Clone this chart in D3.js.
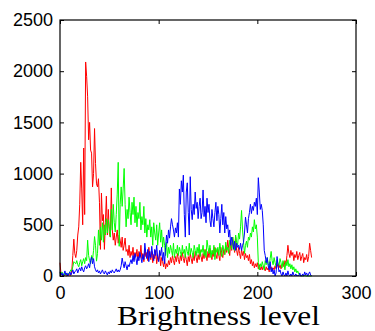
<!DOCTYPE html>
<html>
<head>
<meta charset="utf-8">
<script src="https://cdn.jsdelivr.net/npm/d3@7"></script>
<style>
  html, body { margin: 0; padding: 0; background: #fff; }
  svg { display: block; }
</style>
</head>
<body>
<svg id="chart" width="375" height="331"></svg>
<script>
// ---- data (histogram counts per brightness level 0..255) ----
const xTicks = [0, 100, 200, 300];
const yTicks = [0, 500, 1000, 1500, 2000, 2500];
const xLabel = "Brightness level";

const redValues = [
  130, 20, 10, 5, 0, 15, 5, 0, 10, 20,
  5, 10, 60, 200, 360, 220, 180, 250, 400, 480,
  700, 1110, 850, 500, 1250, 600, 2090, 1950, 1750, 1330,
  1500, 1230, 1200, 870, 1000, 1440, 1100, 900, 870, 950,
  720, 260, 810, 540, 600, 260, 520, 780, 400, 650,
  420, 380, 860, 450, 350, 420, 300, 380, 450, 320,
  400, 350, 280, 380, 250, 300, 370, 240, 260, 200,
  300, 180, 240, 200, 280, 160, 230, 190, 260, 150,
  240, 180, 300, 170, 220, 140, 260, 190, 230, 150,
  280, 200, 160, 240, 130, 210, 170, 250, 120, 190,
  150, 230, 100, 180, 140, 90, 160, 70, 120, 90,
  150, 110, 180, 130, 200, 150, 110, 190, 140, 220,
  160, 120, 200, 150, 230, 170, 130, 210, 160, 100,
  190, 140, 220, 170, 120, 200, 150, 240, 180, 130,
  210, 160, 250, 190, 140, 220, 170, 260, 200, 150,
  240, 180, 270, 200, 160, 250, 190, 280, 210, 170,
  260, 200, 150, 280, 220, 180, 260, 210, 300, 230,
  350, 270, 200, 330, 250, 380, 290, 230, 380, 250,
  200, 280, 220, 170, 260, 200, 240, 160, 220, 180,
  200, 150, 210, 120, 160, 100, 140, 80, 120, 90,
  130, 70, 110, 60, 90, 60, 100, 70, 50, 90,
  60, 80, 40, 70, 90, 50, 80, 60, 100, 70,
  90, 120, 80, 110, 70, 100, 130, 90, 150, 110,
  200, 300, 220, 180, 250, 200, 230, 150, 210, 180,
  240, 160, 200, 230, 150, 190, 220, 130, 180, 160,
  210, 140, 190, 320, 250, 180
];

const greenValues = [
  30, 10, 40, 20, 5, 30, 15, 10, 25, 20,
  40, 60, 50, 90, 140, 130, 120, 150, 110, 90,
  130, 160, 100, 140, 170, 120, 180, 150, 350, 200,
  150, 120, 200, 160, 250, 385, 300, 145, 220, 450,
  300, 480, 350, 520, 330, 500, 400, 560, 420, 550,
  480, 380, 650, 450, 700, 520, 430, 600, 800, 1110,
  290, 700, 870, 680, 850, 1050, 700, 480, 650, 560,
  770, 620, 500, 720, 600, 770, 520, 680, 480, 620,
  560, 720, 450, 580, 500, 680, 420, 560, 380, 500,
  450, 550, 380, 480, 300, 520, 420, 350, 500, 300,
  420, 520, 330, 450, 280, 380, 300, 200, 330, 180,
  280, 220, 300, 250, 200, 320, 180, 260, 220, 300,
  200, 280, 240, 190, 300, 220, 260, 180, 290, 240,
  200, 320, 210, 270, 230, 180, 300, 250, 200, 280,
  220, 310, 190, 260, 230, 300, 200, 250, 180, 350,
  280, 220, 300, 180, 250, 210, 300, 160, 270, 230,
  280, 200, 320, 240, 190, 300, 260, 210, 330, 250,
  280, 220, 350, 300, 260, 380, 310, 250, 400, 330,
  300, 420, 360, 480, 640, 450, 330, 220, 300, 340,
  280, 380, 350, 420, 380, 480, 430, 550, 460, 500,
  380, 130, 60, 120, 90, 140, 100, 60, 150, 110,
  180, 120, 90, 170, 240, 150, 110, 180, 130, 90,
  160, 120, 100, 170, 130, 80, 150, 110, 60, 140,
  100, 160, 90, 120, 70, 110, 60, 90, 40, 70,
  30, 50, 20, 10, 0, 5, 0, 0, 10, 0,
  0, 0, 0, 0, 0, 0
];

const blueValues = [
  40, 10, 30, 0, 20, 50, 10, 30, 0, 20,
  40, 10, 30, 60, 20, 40, 50, 70, 30, 60,
  80, 50, 90, 60, 40, 80, 100, 70, 90, 120,
  80, 150, 185, 120, 170, 90, 60, 40, 60, 30,
  50, 20, 40, 60, 30, 20, 50, 30, 10, 40,
  20, 50, 30, 60, 40, 30, 50, 70, 40, 60,
  40, 60, 100, 175, 120, 80, 140, 100, 60, 110,
  90, 130, 160, 120, 200, 140, 220, 170, 110, 190,
  150, 230, 180, 130, 210, 160, 320, 220, 170, 260,
  140, 240, 180, 290, 200, 150, 260, 200, 300, 180,
  140, 250, 200, 280, 150, 230, 120, 280, 400, 320,
  450, 370, 480, 560, 500, 450, 380, 470, 420, 520,
  380, 850, 700, 930, 820, 985, 600, 380, 820, 910,
  620, 400, 970, 650, 550, 700, 600, 820, 660, 720,
  560, 680, 760, 560, 620, 840, 580, 680, 520, 760,
  620, 700, 540, 480, 650, 560, 480, 620, 720, 540,
  680, 600, 420, 560, 700, 500, 620, 420, 580, 460,
  500, 380, 450, 300, 380, 330, 260, 340, 250, 320,
  280, 300, 260, 320, 250, 300, 330, 420, 575, 500,
  420, 560, 620, 700, 610, 680, 640, 720, 680, 760,
  600, 960, 820, 650, 700, 640, 500, 250, 200, 130,
  180, 100, 60, 140, 40, 80, 20, 60, 0, 30,
  190, 100, 40, 60, 20, 0, 40, 10, 0, 30,
  0, 50, 10, 0, 20, 0, 40, 10, 0, 20,
  0, 10, 0, 30, 0, 0, 20, 0, 40, 10,
  30, 0, 20, 40, 10, 0
];

const seriesList = [
  { name: "red", values: redValues, color: "#ff0000" },
  { name: "green", values: greenValues, color: "#00ff00" },
  { name: "blue", values: blueValues, color: "#0000ff" }
];

// ---- layout ----
const svg = d3.select("#chart");
const mLeft = 60, mRight = 356, mTop = 20, mBottom = 276;

const x = d3.scaleLinear().domain([0, 300]).range([mLeft, mRight]);
const y = d3.scaleLinear().domain([0, 2500]).range([mBottom, mTop]);

const tickFont = "'Liberation Sans', Arial, Helvetica, sans-serif";
const fmt = d3.format("d");

// series lines
const line = d3.line().x((d, i) => x(i)).y(d => y(d));
svg.append("g").selectAll("path")
  .data(seriesList)
  .join("path")
  .attr("fill", "none")
  .attr("stroke", d => d.color)
  .attr("stroke-width", 1)
  .attr("stroke-linejoin", "round")
  .attr("d", d => line(d.values));

// axes (inward ticks, MATLAB style)
const gx = svg.append("g").attr("transform", `translate(0,${mBottom})`)
  .call(d3.axisBottom(x).tickValues(xTicks).tickFormat(fmt).tickSizeInner(-4).tickSizeOuter(0).tickPadding(10));
const gy = svg.append("g").attr("transform", `translate(${mLeft},0)`)
  .call(d3.axisLeft(y).tickValues(yTicks).tickFormat(fmt).tickSizeInner(-4).tickSizeOuter(0).tickPadding(7));
const gt = svg.append("g").attr("transform", `translate(0,${mTop})`)
  .call(d3.axisTop(x).tickValues(xTicks).tickSizeInner(-4).tickSizeOuter(0).tickFormat(""));
const gr = svg.append("g").attr("transform", `translate(${mRight},0)`)
  .call(d3.axisRight(y).tickValues(yTicks).tickSizeInner(-4).tickSizeOuter(0).tickFormat(""));

[gx, gy, gt, gr].forEach(g => {
  g.select(".domain").remove();
  g.selectAll(".tick line").attr("stroke", "#000").attr("stroke-width", 1);
  g.selectAll(".tick text")
    .attr("fill", "#000")
    .style("font-family", tickFont)
    .style("font-size", "18px");
});

// box
svg.append("rect")
  .attr("x", mLeft).attr("y", mTop)
  .attr("width", mRight - mLeft).attr("height", mBottom - mTop)
  .attr("fill", "none").attr("stroke", "#000").attr("stroke-width", 1.2);

// x label
svg.append("text")
  .attr("x", 117).attr("y", 325)
  .attr("textLength", 203)
  .attr("lengthAdjust", "spacingAndGlyphs")
  .style("font-family", "'Liberation Serif', 'Times New Roman', Times, serif")
  .style("font-size", "27px")
  .attr("fill", "#000")
  .text(xLabel);
</script>
</body>
</html>
